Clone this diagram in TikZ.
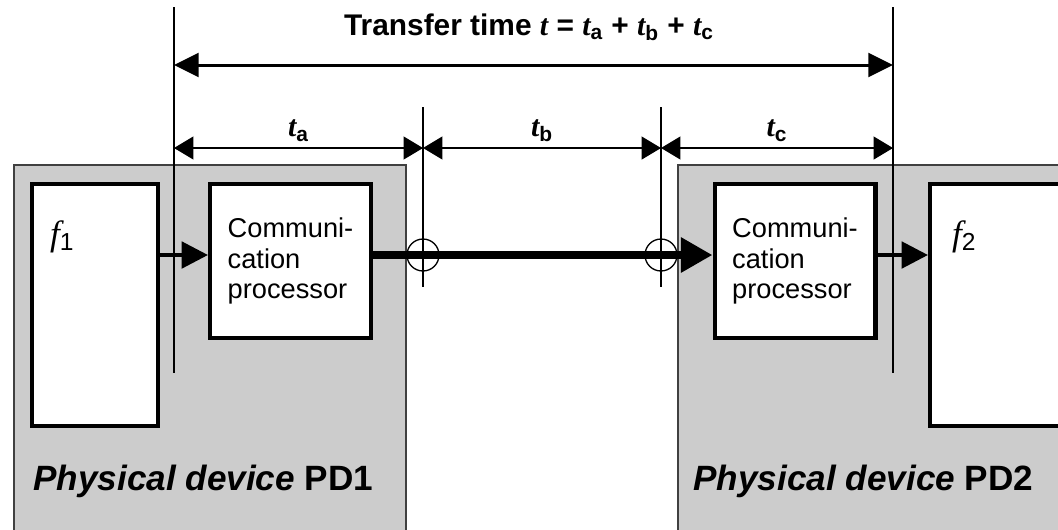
\documentclass[tikz,border=0pt]{standalone}
\usepackage{fontspec}
\setmainfont{Liberation Sans}
\newfontfamily\timesfont{Liberation Serif}
\usetikzlibrary{arrows.meta,fit,positioning}

\newcommand{\tit}{{\timesfont\bfseries\itshape t}}
\newcommand{\tvar}[1]{\tit\textsubscript{\bfseries #1}}
\newcommand{\fvar}[1]{{\timesfont\itshape f}\textsubscript{#1}}

\tikzset{
  device/.style={draw=black!75, fill=black!20, line width=0.6pt, inner sep=0pt},
  block/.style={draw, fill=white, line width=2.3pt, inner sep=0pt},
  guide/.style={line width=0.75pt},
  dimline/.style={line width=0.75pt, {Triangle[length=11pt,width=13pt]}-{Triangle[length=11pt,width=13pt]}},
  total/.style={line width=1.7pt, {Triangle[length=14pt,width=13.5pt]}-{Triangle[length=14pt,width=13.5pt]}},
  flow/.style={line width=2.3pt, -{Triangle[length=15pt,width=15pt]}},
  bus/.style={line width=4.5pt, -{Triangle[length=18pt,width=19pt]}},
  dimtext/.style={font=\fontsize{17}{19}\selectfont\bfseries},
  pdtext/.style={font=\fontsize{20}{24}\selectfont\bfseries, inner sep=0pt, anchor=base west},
  proc/.style={block, minimum width=3.22cm, minimum height=3.08cm, align=left,
    font=\fontsize{15.5}{17.5}\selectfont},
  flabel/.style={anchor=base west, font=\fontsize{20}{22}\selectfont}
}

\begin{document}
\begin{tikzpicture}[x=0.02cm,y=-0.02cm]
  \useasboundingbox (0,0) rectangle (1058,529);
  \clip (0,0) rectangle (1058,529);

  \node[device, fit={(14,165) (406,545)}] (pd1) {};
  \node[device, fit={(678,165) (1070,545)}] (pd2) {};

  \node[block, fit={(32,184) (158,426)}] (f1) {};
  \node[proc] (cp1) at (290.5,261) {Communi-\\cation\\processor};
  \node[proc] (cp2) at (795,261) {Communi-\\cation\\processor};
  \node[block, fit={(930,184) (1075,426)}] (f2) {};

  \node[flabel] (f1lab) at (44,245) {\fvar{1}};
  \node[flabel] (f2lab) at (946,245) {\fvar{2}};

  \node[pdtext] (pd1lab) at (33,490) {\textit{Physical device} PD1};
  \node[pdtext] (pd2lab) at (693,490) {\textit{Physical device} PD2};

  \coordinate (busy) at (0,255);
  \coordinate (dimy) at (0,148);
  \coordinate (topy) at (0,65);
  \coordinate (m0) at (174,7);
  \coordinate (m1) at (423,107);
  \coordinate (m2) at (661,107);
  \coordinate (m3) at (893,7);

  \draw[guide] (m0) -- ++(0,366);
  \draw[guide] (m3) -- ++(0,366);
  \draw[guide] (m1) -- ++(0,180);
  \draw[guide] (m2) -- ++(0,180);

  \draw[flow] (f1.east |- busy) -- (cp1.west |- busy);
  \draw[bus] (cp1.east |- busy) -- (cp2.west |- busy);
  \draw[flow] (cp2.east |- busy) -- (f2.west |- busy);
  \draw[guide] (m1 |- busy) circle[radius=0.32cm];
  \draw[guide] (m2 |- busy) circle[radius=0.32cm];

  \draw[dimline] (m0 |- dimy) -- (m1 |- dimy) node[midway, above, dimtext] (ta) {\tvar{a}};
  \draw[dimline] (m1 |- dimy) -- (m2 |- dimy) node[midway, above, dimtext] (tb) {\tvar{b}};
  \draw[dimline] (m2 |- dimy) -- (m3 |- dimy) node[midway, above, dimtext] (tc) {\tvar{c}};
  \draw[total] (m0 |- topy) -- (m3 |- topy);
  \node[dimtext] (ttl) at (529,27) {Transfer time \tit{} = \tvar{a} + \tvar{b} + \tvar{c}};
\end{tikzpicture}
\end{document}
